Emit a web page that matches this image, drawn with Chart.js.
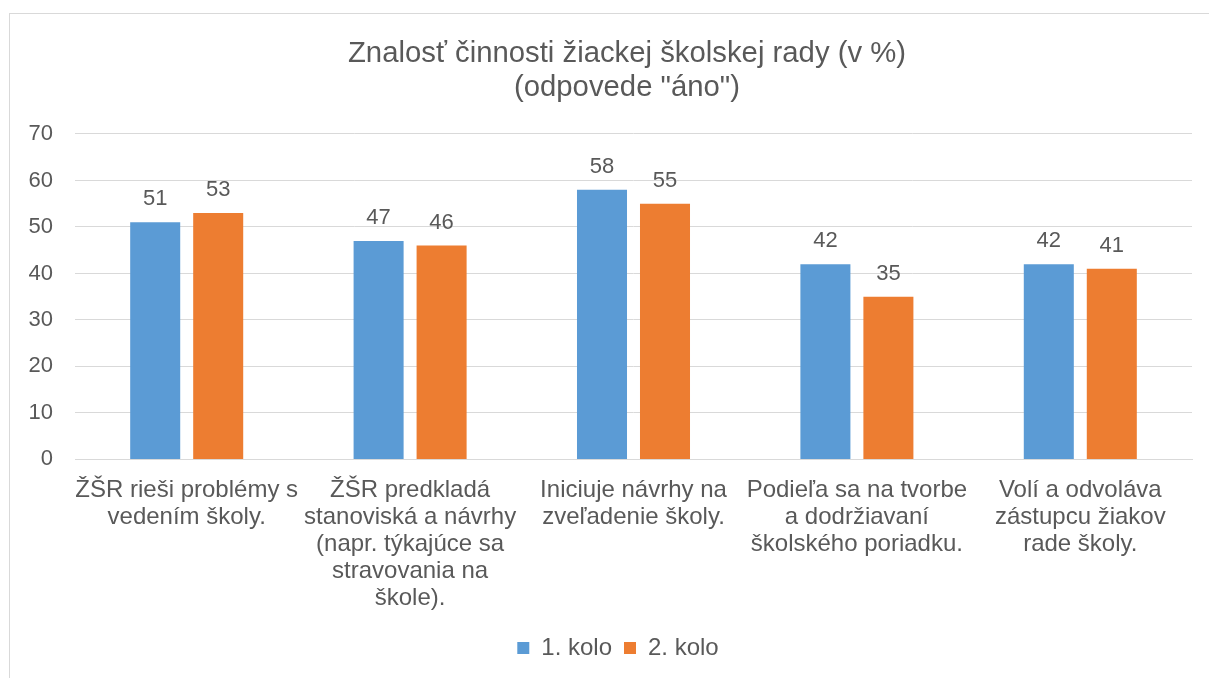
<!DOCTYPE html>
<html lang="sk">
<head>
<meta charset="utf-8">
<title>Znalosť činnosti žiackej školskej rady</title>
<script src="https://cdn.jsdelivr.net/npm/chart.js@4"></script>
<style>
  html, body { margin: 0; padding: 0; background: #fff; overflow: hidden; }
  #frame { position: absolute; left: 9px; top: 13px; width: 1300px; height: 800px; border: 1px solid #d9d9d9; box-sizing: border-box; }
  #chart { position: absolute; left: 0; top: 0; }
</style>
</head>
<body>
<div id="frame"></div>
<canvas id="chart" width="1209" height="678"></canvas>
<script>
// data
const categories = [
  ["ŽŠR rieši problémy s", "vedením školy."],
  ["ŽŠR predkladá", "stanoviská a návrhy", "(napr. týkajúce sa", "stravovania na", "škole)."],
  ["Iniciuje návrhy na", "zveľadenie školy."],
  ["Podieľa sa na tvorbe", "a dodržiavaní", "školského poriadku."],
  ["Volí a odvoláva", "zástupcu žiakov", "rade školy."]
];
const round1 = [51, 47, 58, 42, 42];
const round2 = [53, 46, 55, 35, 41];
const seriesNames = ["1. kolo", "2. kolo"];
const titleLines = ["Znalosť činnosti žiackej školskej rady (v %)", "(odpovede \"áno\")"];

const FONT = "'Liberation Sans', Arial, sans-serif";
const TEXT = "#595959";

// simple value labels above each bar
const barValues = {
  id: "barValues",
  afterDatasetsDraw(chart) {
    const ctx = chart.ctx;
    ctx.save();
    ctx.font = "22px " + FONT;
    ctx.fillStyle = TEXT;
    ctx.textAlign = "center";
    ctx.textBaseline = "alphabetic";
    chart.data.datasets.forEach((ds, i) => {
      chart.getDatasetMeta(i).data.forEach((bar, j) => {
        ctx.fillText(ds.data[j], bar.x, bar.y - 17);
      });
    });
    ctx.restore();
  }
};

// excel centres title and legend a bit to the right of the canvas middle
const nudgeBoxes = {
  id: "nudgeBoxes",
  afterLayout(chart) {
    if (chart.titleBlock) { chart.titleBlock.left += 31; chart.titleBlock.right += 31; }
    if (chart.legend) { chart.legend.left += 22; chart.legend.right += 22; }
  }
};

new Chart(document.getElementById("chart"), {
  type: "bar",
  data: {
    labels: categories,
    datasets: [
      { label: seriesNames[0], data: round1, backgroundColor: "#5B9BD5" },
      { label: seriesNames[1], data: round2, backgroundColor: "#ED7D31" }
    ]
  },
  options: {
    responsive: false,
    animation: false,
    categoryPercentage: 0.564,
    barPercentage: 0.794,
    layout: { padding: { left: 0, right: 17, top: 37, bottom: 8 } },
    plugins: {
      title: {
        display: true,
        text: titleLines,
        color: TEXT,
        font: { family: FONT, size: 29.3, weight: "normal", lineHeight: 1.16 },
        padding: { top: 0, bottom: 29 }
      },
      legend: {
        position: "bottom",
        labels: {
          color: TEXT,
          font: { family: FONT, size: 24 },
          boxWidth: 12,
          boxHeight: 12,
          padding: 12
        }
      },
      tooltip: { enabled: false }
    },
    scales: {
      x: {
        grid: { display: false, drawTicks: false },
        border: { color: "#d9d9d9", width: 1 },
        ticks: {
          color: TEXT,
          font: { family: FONT, size: 24, lineHeight: 1.13 },
          padding: 17,
          maxRotation: 0,
          autoSkip: false
        },
        afterFit(scale) { scale.height -= 5; }
      },
      y: {
        min: 0,
        max: 70,
        grid: { color: "#d9d9d9", drawTicks: false },
        border: { display: false },
        ticks: {
          stepSize: 10,
          color: TEXT,
          font: { family: FONT, size: 22 },
          padding: 22
        },
        afterFit(scale) { scale.width = 75; }
      }
    }
  },
  plugins: [barValues, nudgeBoxes]
});
</script>
</body>
</html>
